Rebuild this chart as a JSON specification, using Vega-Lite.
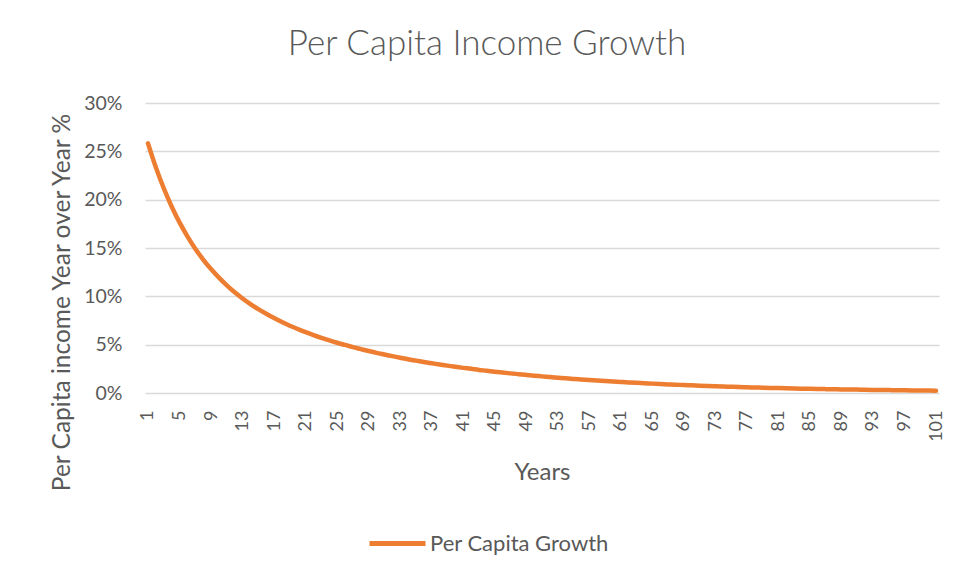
{
  "$schema": "https://vega.github.io/schema/vega-lite/v6.json",
  "width": 794,
  "height": 290,
  "autosize": {"type": "none"},
  "padding": {"left": 145, "top": 103, "right": 17, "bottom": 184},
  "background": "white",
  "title": {
    "text": "Per Capita Income Growth",
    "font": "Lato",
    "fontSize": 35,
    "fontWeight": 300,
    "color": "#595959",
    "anchor": "middle",
    "dx": -55,
    "baseline": "alphabetic",
    "offset": 3
  },
  "config": {
    "view": {"stroke": null},
    "font": "Lato",
    "axis": {"labelColor": "#595959", "titleColor": "#595959", "labelFont": "Lato", "titleFont": "Lato", "titleFontWeight": "normal"}
  },
  "data": {
    "values": [
      {"year": 1, "growth": 0.2583, "series": "Per Capita Growth"},
      {"year": 2, "growth": 0.2334, "series": "Per Capita Growth"},
      {"year": 3, "growth": 0.2118, "series": "Per Capita Growth"},
      {"year": 4, "growth": 0.1930, "series": "Per Capita Growth"},
      {"year": 5, "growth": 0.1765, "series": "Per Capita Growth"},
      {"year": 6, "growth": 0.1621, "series": "Per Capita Growth"},
      {"year": 7, "growth": 0.1493, "series": "Per Capita Growth"},
      {"year": 8, "growth": 0.1381, "series": "Per Capita Growth"},
      {"year": 9, "growth": 0.1282, "series": "Per Capita Growth"},
      {"year": 10, "growth": 0.1193, "series": "Per Capita Growth"},
      {"year": 11, "growth": 0.1114, "series": "Per Capita Growth"},
      {"year": 12, "growth": 0.1042, "series": "Per Capita Growth"},
      {"year": 13, "growth": 0.0978, "series": "Per Capita Growth"},
      {"year": 14, "growth": 0.0920, "series": "Per Capita Growth"},
      {"year": 15, "growth": 0.0867, "series": "Per Capita Growth"},
      {"year": 16, "growth": 0.0819, "series": "Per Capita Growth"},
      {"year": 17, "growth": 0.0775, "series": "Per Capita Growth"},
      {"year": 18, "growth": 0.0734, "series": "Per Capita Growth"},
      {"year": 19, "growth": 0.0696, "series": "Per Capita Growth"},
      {"year": 20, "growth": 0.0662, "series": "Per Capita Growth"},
      {"year": 21, "growth": 0.0629, "series": "Per Capita Growth"},
      {"year": 22, "growth": 0.0599, "series": "Per Capita Growth"},
      {"year": 23, "growth": 0.0571, "series": "Per Capita Growth"},
      {"year": 24, "growth": 0.0545, "series": "Per Capita Growth"},
      {"year": 25, "growth": 0.0520, "series": "Per Capita Growth"},
      {"year": 26, "growth": 0.0497, "series": "Per Capita Growth"},
      {"year": 27, "growth": 0.0474, "series": "Per Capita Growth"},
      {"year": 28, "growth": 0.0454, "series": "Per Capita Growth"},
      {"year": 29, "growth": 0.0434, "series": "Per Capita Growth"},
      {"year": 30, "growth": 0.0415, "series": "Per Capita Growth"},
      {"year": 31, "growth": 0.0398, "series": "Per Capita Growth"},
      {"year": 32, "growth": 0.0381, "series": "Per Capita Growth"},
      {"year": 33, "growth": 0.0365, "series": "Per Capita Growth"},
      {"year": 34, "growth": 0.0349, "series": "Per Capita Growth"},
      {"year": 35, "growth": 0.0335, "series": "Per Capita Growth"},
      {"year": 36, "growth": 0.0321, "series": "Per Capita Growth"},
      {"year": 37, "growth": 0.0308, "series": "Per Capita Growth"},
      {"year": 38, "growth": 0.0295, "series": "Per Capita Growth"},
      {"year": 39, "growth": 0.0283, "series": "Per Capita Growth"},
      {"year": 40, "growth": 0.0271, "series": "Per Capita Growth"},
      {"year": 41, "growth": 0.0260, "series": "Per Capita Growth"},
      {"year": 42, "growth": 0.0250, "series": "Per Capita Growth"},
      {"year": 43, "growth": 0.0239, "series": "Per Capita Growth"},
      {"year": 44, "growth": 0.0230, "series": "Per Capita Growth"},
      {"year": 45, "growth": 0.0220, "series": "Per Capita Growth"},
      {"year": 46, "growth": 0.0211, "series": "Per Capita Growth"},
      {"year": 47, "growth": 0.0203, "series": "Per Capita Growth"},
      {"year": 48, "growth": 0.0195, "series": "Per Capita Growth"},
      {"year": 49, "growth": 0.0187, "series": "Per Capita Growth"},
      {"year": 50, "growth": 0.0179, "series": "Per Capita Growth"},
      {"year": 51, "growth": 0.0172, "series": "Per Capita Growth"},
      {"year": 52, "growth": 0.0165, "series": "Per Capita Growth"},
      {"year": 53, "growth": 0.0158, "series": "Per Capita Growth"},
      {"year": 54, "growth": 0.0152, "series": "Per Capita Growth"},
      {"year": 55, "growth": 0.0146, "series": "Per Capita Growth"},
      {"year": 56, "growth": 0.0140, "series": "Per Capita Growth"},
      {"year": 57, "growth": 0.0134, "series": "Per Capita Growth"},
      {"year": 58, "growth": 0.0129, "series": "Per Capita Growth"},
      {"year": 59, "growth": 0.0124, "series": "Per Capita Growth"},
      {"year": 60, "growth": 0.0119, "series": "Per Capita Growth"},
      {"year": 61, "growth": 0.0114, "series": "Per Capita Growth"},
      {"year": 62, "growth": 0.0109, "series": "Per Capita Growth"},
      {"year": 63, "growth": 0.0105, "series": "Per Capita Growth"},
      {"year": 64, "growth": 0.0101, "series": "Per Capita Growth"},
      {"year": 65, "growth": 0.0097, "series": "Per Capita Growth"},
      {"year": 66, "growth": 0.0093, "series": "Per Capita Growth"},
      {"year": 67, "growth": 0.0089, "series": "Per Capita Growth"},
      {"year": 68, "growth": 0.0086, "series": "Per Capita Growth"},
      {"year": 69, "growth": 0.0082, "series": "Per Capita Growth"},
      {"year": 70, "growth": 0.0079, "series": "Per Capita Growth"},
      {"year": 71, "growth": 0.0076, "series": "Per Capita Growth"},
      {"year": 72, "growth": 0.0073, "series": "Per Capita Growth"},
      {"year": 73, "growth": 0.0070, "series": "Per Capita Growth"},
      {"year": 74, "growth": 0.0067, "series": "Per Capita Growth"},
      {"year": 75, "growth": 0.0064, "series": "Per Capita Growth"},
      {"year": 76, "growth": 0.0062, "series": "Per Capita Growth"},
      {"year": 77, "growth": 0.0059, "series": "Per Capita Growth"},
      {"year": 78, "growth": 0.0057, "series": "Per Capita Growth"},
      {"year": 79, "growth": 0.0055, "series": "Per Capita Growth"},
      {"year": 80, "growth": 0.0053, "series": "Per Capita Growth"},
      {"year": 81, "growth": 0.0051, "series": "Per Capita Growth"},
      {"year": 82, "growth": 0.0049, "series": "Per Capita Growth"},
      {"year": 83, "growth": 0.0047, "series": "Per Capita Growth"},
      {"year": 84, "growth": 0.0045, "series": "Per Capita Growth"},
      {"year": 85, "growth": 0.0043, "series": "Per Capita Growth"},
      {"year": 86, "growth": 0.0042, "series": "Per Capita Growth"},
      {"year": 87, "growth": 0.0040, "series": "Per Capita Growth"},
      {"year": 88, "growth": 0.0039, "series": "Per Capita Growth"},
      {"year": 89, "growth": 0.0037, "series": "Per Capita Growth"},
      {"year": 90, "growth": 0.0036, "series": "Per Capita Growth"},
      {"year": 91, "growth": 0.0035, "series": "Per Capita Growth"},
      {"year": 92, "growth": 0.0033, "series": "Per Capita Growth"},
      {"year": 93, "growth": 0.0032, "series": "Per Capita Growth"},
      {"year": 94, "growth": 0.0031, "series": "Per Capita Growth"},
      {"year": 95, "growth": 0.0030, "series": "Per Capita Growth"},
      {"year": 96, "growth": 0.0029, "series": "Per Capita Growth"},
      {"year": 97, "growth": 0.0028, "series": "Per Capita Growth"},
      {"year": 98, "growth": 0.0027, "series": "Per Capita Growth"},
      {"year": 99, "growth": 0.0026, "series": "Per Capita Growth"},
      {"year": 100, "growth": 0.0025, "series": "Per Capita Growth"},
      {"year": 101, "growth": 0.0024, "series": "Per Capita Growth"}
    ]
  },
  "mark": {"type": "line", "strokeWidth": 4.5, "strokeCap": "round", "strokeJoin": "round", "interpolate": "monotone"},
  "encoding": {
    "x": {
      "field": "year",
      "type": "quantitative",
      "scale": {"domain": [0.62, 101.38], "nice": false, "zero": false},
      "axis": {
        "title": "Years",
        "titleFontSize": 24,
        "titleY": 86,
        "titleBaseline": "alphabetic",
        "values": [1, 5, 9, 13, 17, 21, 25, 29, 33, 37, 41, 45, 49, 53, 57, 61, 65, 69, 73, 77, 81, 85, 89, 93, 97, 101],
        "labelAngle": -90,
        "labelFontSize": 18,
        "labelPadding": 17,
        "labelOverlap": false,
        "labelFlush": false,
        "ticks": false,
        "domain": false,
        "grid": false,
        "format": "d"
      }
    },
    "y": {
      "field": "growth",
      "type": "quantitative",
      "scale": {"domain": [0, 0.3], "nice": false},
      "axis": {
        "title": "Per Capita income Year over Year %",
        "titleFontSize": 24.5,
        "titleAngle": -90,
        "titleX": -83,
        "titleY": 199,
        "titleAlign": "center",
        "titleBaseline": "middle",
        "values": [0, 0.05, 0.1, 0.15, 0.2, 0.25, 0.3],
        "format": ".0%",
        "labelFontSize": 19.5,
        "labelPadding": 23,
        "ticks": false,
        "domain": false,
        "grid": true,
        "gridColor": "#D9D9D9",
        "gridWidth": 1.3
      }
    },
    "color": {
      "field": "series",
      "type": "nominal",
      "scale": {"range": ["#ED7D31"]},
      "legend": {
        "title": null,
        "orient": "none",
        "legendX": 222,
        "legendY": 410,
        "symbolType": "stroke",
        "symbolSize": 3136,
        "symbolStrokeWidth": 5,
        "labelFontSize": 22,
        "labelColor": "#595959",
        "labelFont": "Lato",
        "labelOffset": 2,
        "labelLimit": 400,
        "padding": 0
      }
    }
  }
}
